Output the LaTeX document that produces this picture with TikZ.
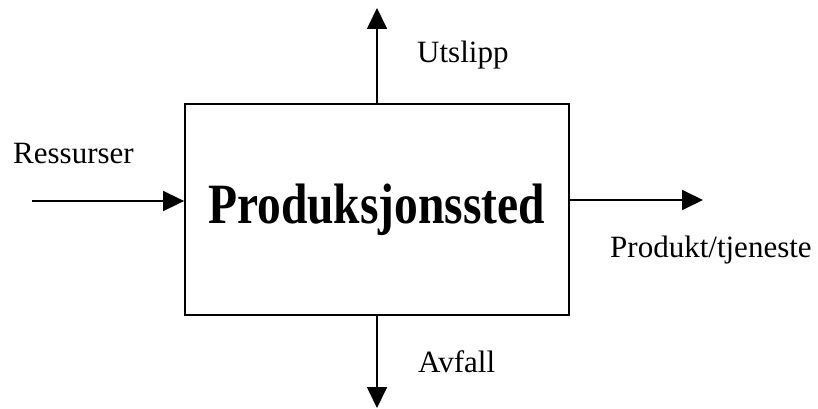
\documentclass[tikz,border=0pt]{standalone}
\usepackage{graphicx}
\usepackage{fontspec}
\setmainfont{Liberation Serif}
\usetikzlibrary{arrows.meta}
\begin{document}
\begin{tikzpicture}[x=1pt,y=-1pt,
  flow/.style={line width=1.8pt,-{Triangle[length=21pt,width=20pt]}},
  lbl/.style={anchor=base west,inner sep=0pt,font=\fontsize{31}{36}\selectfont},
  boxstyle/.style={draw,line width=1.8pt,minimum width=384pt,minimum height=211pt,inner sep=0pt}]
\useasboundingbox (0,0) rectangle (818,409);
\node[boxstyle] (box) at (377,209.5) {};
\node[anchor=base,inner sep=0pt,font=\fontsize{47.5}{56}\selectfont\bfseries] (title) at (376.5,223) {\scalebox{1}[1.2]{Produksjonssted}};
\coordinate (inS) at (32,201);
\coordinate (outE) at (703,200);
\coordinate (upN) at (377,8);
\coordinate (dnS) at (377,408);
\draw[flow] (inS) -- (inS -| box.west);
\draw[flow] (outE -| box.east) -- (outE);
\draw[flow] (box.north) -- (upN);
\draw[flow] (box.south) -- (dnS);
\node[lbl] (res) at (13,163) {Ressurser};
\node[lbl] (uts) at (417,63) {Utslipp};
\node[lbl] (prod) at (610,257) {Produkt/tjeneste};
\node[lbl] (avf) at (418,372) {Avfall};
\end{tikzpicture}
\end{document}
